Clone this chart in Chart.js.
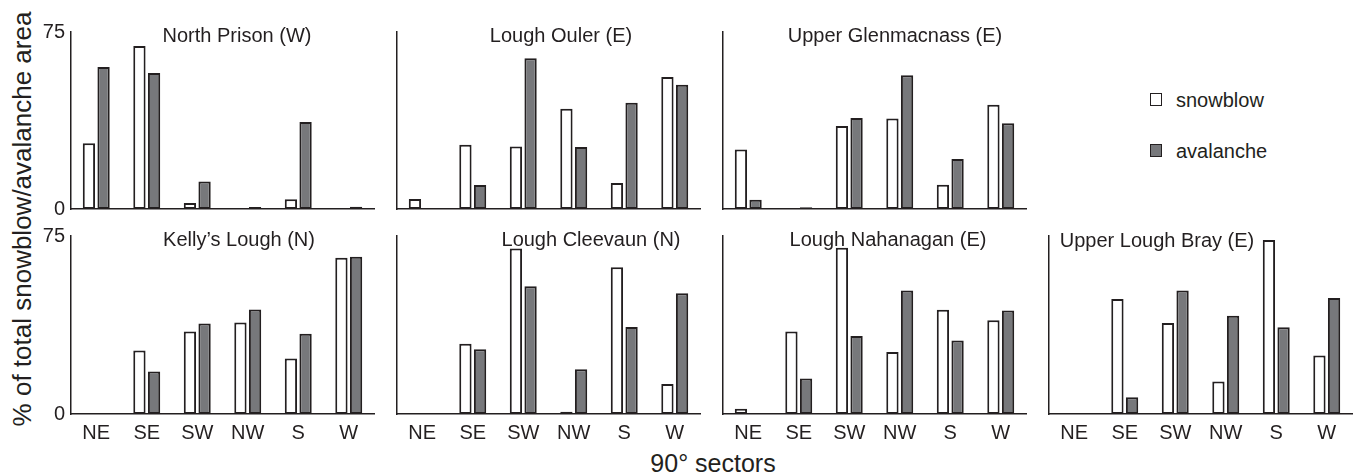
<!DOCTYPE html>
<html>
<head>
<meta charset="utf-8">
<script src="https://cdn.jsdelivr.net/npm/chart.js@4/dist/chart.umd.min.js"></script>
<style>
  html, body { margin:0; padding:0; background:#ffffff; }
  body { width:1358px; height:475px; overflow:hidden; position:relative;
         font-family:"Liberation Sans", Arial, sans-serif; color:#231f20; }
  canvas { position:absolute; }
  .ytitle { position:absolute; left:22px; top:219px; transform:translate(-50%,-50%) rotate(-90deg);
            font-size:26px; line-height:1; white-space:nowrap; }
  .xtitle { position:absolute; left:713px; top:463px; transform:translate(-50%,-50%);
            font-size:25px; line-height:1; white-space:nowrap; }
  .legsq { position:absolute; width:12px; height:13px; box-sizing:border-box; border:1.5px solid #231f20; }
  .legtx { position:absolute; font-size:20px; line-height:20px; white-space:nowrap; }
</style>
</head>
<body>
<div class="ytitle">% of total snowblow/avalanche area</div>
<div class="xtitle">90° sectors</div>
<div id="legend"></div>
<script>
// ---------------- data ----------------
const sectors = ['NE', 'SE', 'SW', 'NW', 'S', 'W'];
const seriesNames = ['snowblow', 'avalanche'];
const yTickValues = [0, 75];
const siteNames = ['North Prison (W)', 'Lough Ouler (E)', 'Upper Glenmacnass (E)',
                   'Kelly\u2019s Lough (N)', 'Lough Cleevaun (N)', 'Lough Nahanagan (E)', 'Upper Lough Bray (E)'];

const northPrisonSnow      = [27.9, 69.1, 2.5, 0,   4.1, 0];
const northPrisonAval      = [60.2, 57.6, 11.7, 0.8, 36.9, 1.0];
const loughOulerSnow       = [4.2, 27.2, 26.5, 42.5, 11.0, 55.9];
const loughOulerAval       = [0,   10.2, 63.9, 26.3, 45.0, 52.6];
const upperGlenmacnassSnow = [25.2, 0,   35.2, 38.4, 10.3, 44.2];
const upperGlenmacnassAval = [3.9,  0.7, 38.6, 56.7, 21.2, 36.3];
const kellysLoughSnow      = [0, 26.8, 34.8, 38.6, 23.4, 65.8];
const kellysLoughAval      = [0, 17.9, 38.1, 44.0, 33.8, 66.3];
const loughCleevaunSnow    = [0, 29.6, 69.7, 0.9, 61.8, 12.6];
const loughCleevaunAval    = [0, 27.3, 53.8, 18.9, 36.7, 50.9];
const loughNahanaganSnow   = [2.2, 34.8, 70.0, 26.1, 43.9, 39.5];
const loughNahanaganAval   = [0,   15.0, 32.9, 52.0, 31.0, 43.6];
const upperLoughBraySnow   = [0, 48.5, 38.3, 13.7, 73.3, 24.7];
const upperLoughBrayAval   = [0, 7.1,  52.0, 41.4, 36.6, 48.9];

const siteSnow = [northPrisonSnow, loughOulerSnow, upperGlenmacnassSnow,
                  kellysLoughSnow, loughCleevaunSnow, loughNahanaganSnow, upperLoughBraySnow];
const siteAval = [northPrisonAval, loughOulerAval, upperGlenmacnassAval,
                  kellysLoughAval, loughCleevaunAval, loughNahanaganAval, upperLoughBrayAval];

// ---------------- styles / layout ----------------
const INK = '#231f20';
const FILLS = ['#ffffff', '#77787b'];
const FONT = '"Liberation Sans", Arial, sans-serif';
const colLeft = [71, 397, 723, 1049];
const plotW = 303;
const rowTop = [32, 236];
const plotH = [177, 178];
const panelPos = [[0,0],[0,1],[0,2],[1,0],[1,1],[1,2],[1,3]]; // [row, col]
const titleDx = [166, 164, 172, 168, 194, 165, 108];
const titleDy = [10, 10, 10, 10, 10, 10, 11];

const panelTitle = {
  id: 'panelTitle',
  afterDraw(chart, args, opts) {
    const { ctx, chartArea } = chart;
    ctx.save();
    ctx.font = '20px ' + FONT;
    ctx.fillStyle = INK;
    ctx.textAlign = 'center';
    ctx.textBaseline = 'alphabetic';
    ctx.fillText(opts.text, chartArea.left + opts.dx, chartArea.top + opts.dy);
    ctx.restore();
  }
};

siteNames.forEach((name, i) => {
  const [row, col] = panelPos[i];
  const padL = col === 0 ? colLeft[0] : 8;
  const padT = 22, padR = 6;
  const padB = row === 1 ? 44 : 18;
  const cv = document.createElement('canvas');
  const W = padL + plotW + padR, H = padT + plotH[row] + padB;
  cv.width = W; cv.height = H;
  cv.style.width = W + 'px'; cv.style.height = H + 'px';
  cv.style.left = (colLeft[col] - padL) + 'px';
  cv.style.top = (rowTop[row] - padT) + 'px';
  document.body.appendChild(cv);

  new Chart(cv.getContext('2d'), {
    type: 'bar',
    data: {
      labels: sectors,
      datasets: [siteSnow[i], siteAval[i]].map((d, k) => ({
        label: seriesNames[k],
        data: d,
        backgroundColor: FILLS[k],
        borderColor: INK,
        borderWidth: 2,
        borderSkipped: false,
        barPercentage: 0.84,
        categoryPercentage: 0.58
      }))
    },
    options: {
      responsive: false,
      animation: false,
      devicePixelRatio: 1,
      layout: { padding: { top: padT, right: padR, left: 0, bottom: 0 } },
      plugins: {
        legend: { display: false },
        tooltip: { enabled: false },
        panelTitle: { text: name, dx: titleDx[i], dy: titleDy[i] }
      },
      scales: {
        x: {
          type: 'category',
          offset: true,
          grid: { display: false, drawTicks: false },
          border: { display: true, color: INK, width: 1.5 },
          ticks: { display: row === 1, color: INK, font: { family: FONT, size: 20 },
                   padding: 7, maxRotation: 0, autoSkip: false },
          afterFit(s) { s.height = padB; }
        },
        y: {
          min: 0, max: 75,
          grid: { display: false, drawTicks: false },
          border: { display: true, color: INK, width: 1.5 },
          ticks: { display: col === 0, color: INK, font: { family: FONT, size: 20 }, padding: 6 },
          afterBuildTicks(s) { s.ticks = yTickValues.map(v => ({ value: v })); },
          afterFit(s) { s.width = padL; }
        }
      }
    },
    plugins: [panelTitle]
  });
});

// legend (HTML text, colours from the dataset styles)
const leg = document.getElementById('legend');
const legTop = [93, 144];
seriesNames.forEach((n, k) => {
  const sq = document.createElement('div');
  sq.className = 'legsq';
  sq.style.left = '1150px';
  sq.style.top = legTop[k] + 'px';
  sq.style.background = FILLS[k];
  leg.appendChild(sq);
  const tx = document.createElement('div');
  tx.className = 'legtx';
  tx.style.left = '1176px';
  tx.style.top = (legTop[k] - 3.5) + 'px';
  tx.textContent = n;
  leg.appendChild(tx);
});
</script>
</body>
</html>
